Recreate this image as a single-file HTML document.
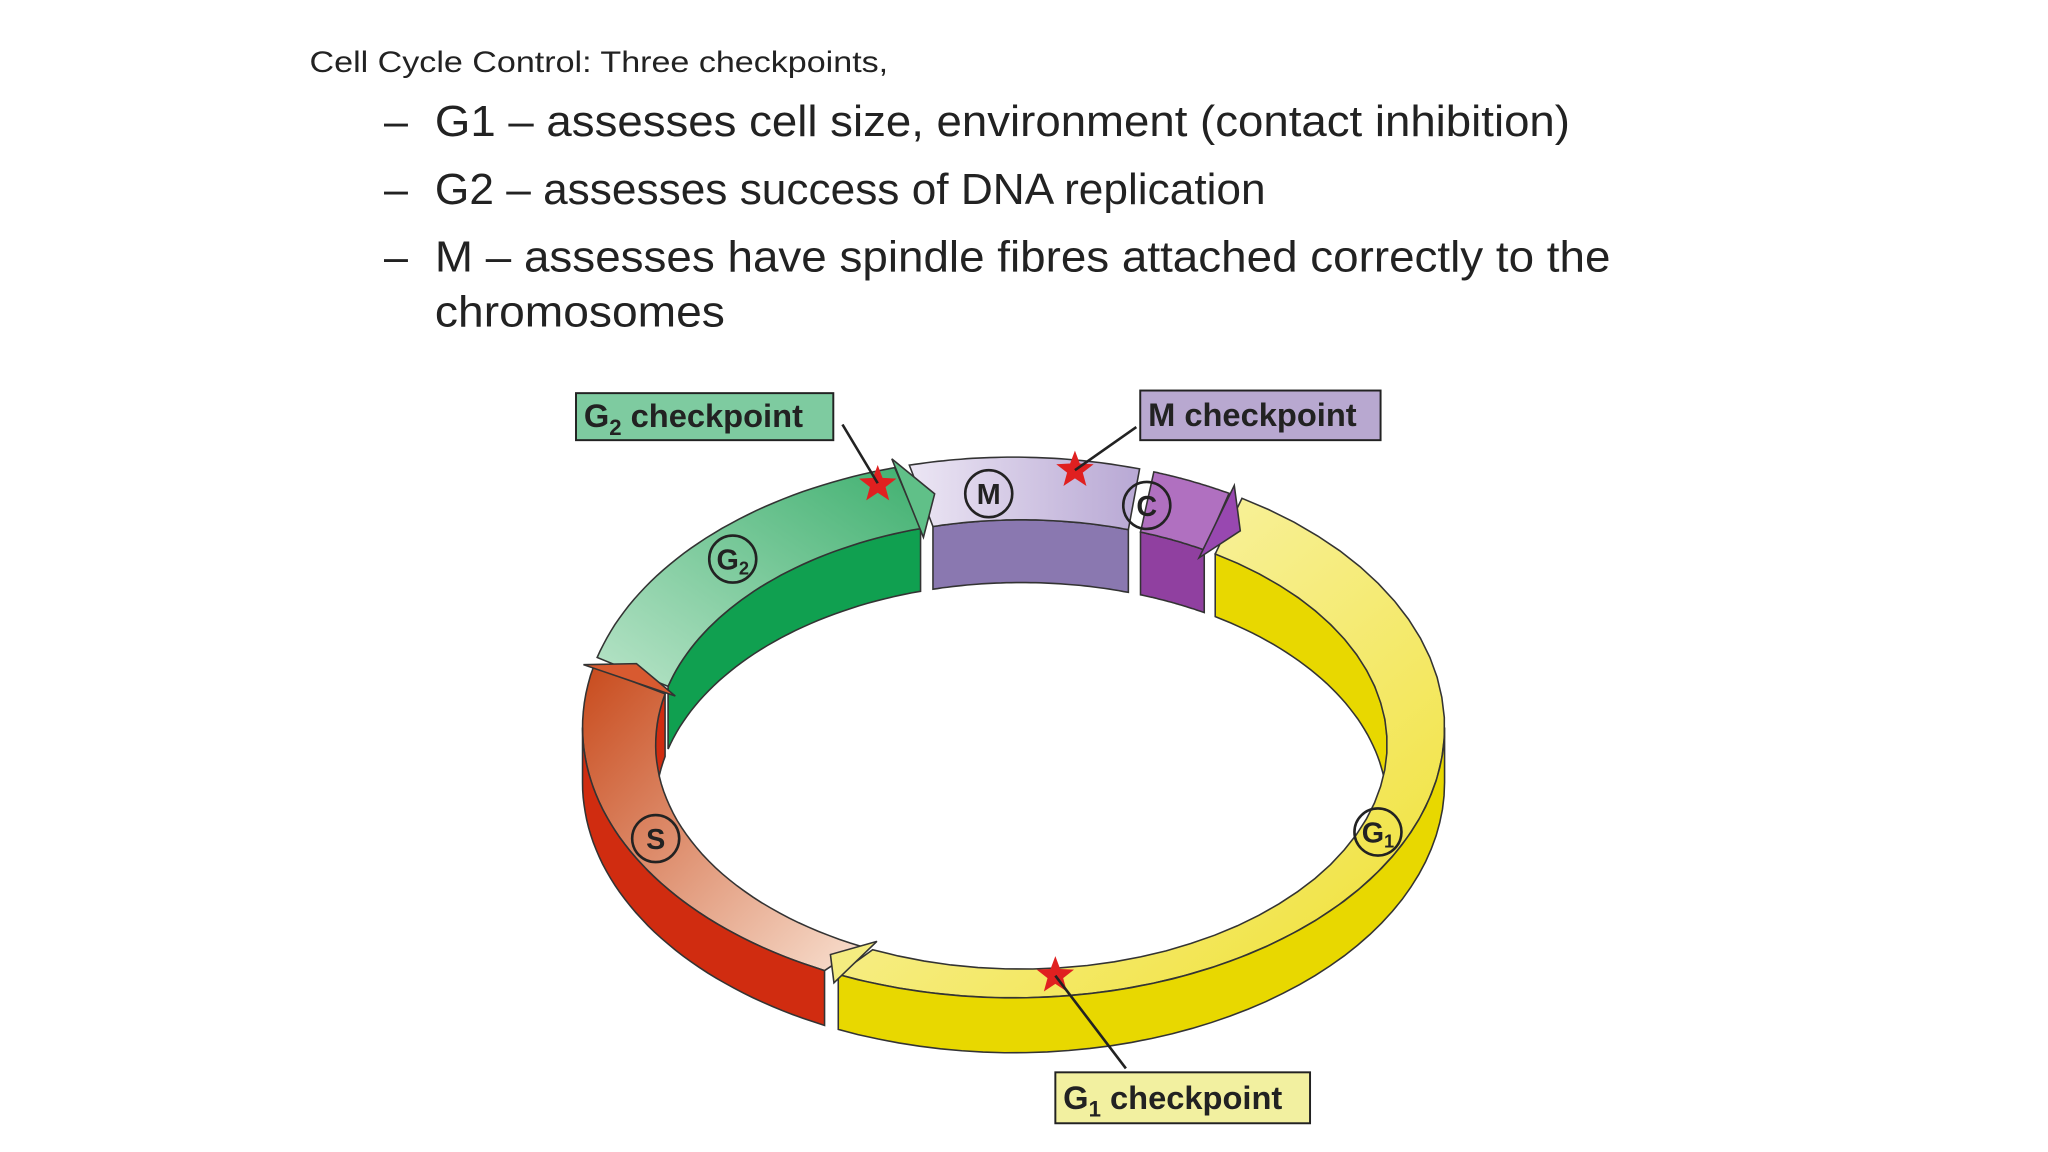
<!DOCTYPE html>
<html><head><meta charset="utf-8"><style>
html,body{margin:0;padding:0;background:#fff;}
body{width:2048px;height:1152px;overflow:hidden;}
svg{display:block}
</style></head><body>
<svg id="s" width="2048" height="1152" viewBox="0 0 1568 882" xmlns="http://www.w3.org/2000/svg">
<defs>
<linearGradient id="gy" x1="0" y1="0" x2="1" y2="1"><stop offset="0" stop-color="#fbf8c8"/><stop offset="1" stop-color="#f0e030"/></linearGradient>
<linearGradient id="gs" x1="0" y1="0" x2="1" y2="1"><stop offset="0" stop-color="#c84a1c"/><stop offset="1" stop-color="#f8e0d0"/></linearGradient>
<linearGradient id="gg" x1="0" y1="1" x2="1" y2="0"><stop offset="0" stop-color="#b8e4c8"/><stop offset="1" stop-color="#40b070"/></linearGradient>
<linearGradient id="gm" x1="0" y1="0" x2="1" y2="0"><stop offset="0" stop-color="#ece6f4"/><stop offset="1" stop-color="#b8a8d4"/></linearGradient>
</defs>
<text x="237" y="55" font-family="Liberation Sans, sans-serif" font-size="23" fill="#222" textLength="443" lengthAdjust="spacingAndGlyphs">Cell Cycle Control: Three checkpoints,</text>
<g font-family="Liberation Sans, sans-serif" font-size="33" fill="#222">
<text x="294" y="104">–</text><text x="333" y="104" textLength="869" lengthAdjust="spacingAndGlyphs">G1 – assesses cell size, environment (contact inhibition)</text>
<text x="294" y="156">–</text><text x="333" y="156" textLength="636" lengthAdjust="spacingAndGlyphs">G2 – assesses success of DNA replication</text>
<text x="294" y="208">–</text><text x="333" y="208" textLength="900" lengthAdjust="spacingAndGlyphs">M – assesses have spindle fibres attached correctly to the</text>
<text x="333" y="250" textLength="222" lengthAdjust="spacingAndGlyphs">chromosomes</text>
</g>
<g id="ring"></g>
<g font-family="Liberation Sans, sans-serif" font-weight="bold" fill="#222" stroke="#222">
<line x1="645" y1="325" x2="672" y2="370" stroke-width="2"/>
<line x1="870" y1="327" x2="823" y2="360" stroke-width="2"/>
<line x1="862" y1="818" x2="808" y2="747" stroke-width="2"/>
<rect x="441" y="301" width="197" height="36" fill="#7ecba0" stroke-width="1.5"/>
<rect x="873" y="299" width="184" height="38" fill="#b8a8d0" stroke-width="1.5"/>
<rect x="808" y="821" width="195" height="39" fill="#f2f0a0" stroke-width="1.5"/>
<text x="447" y="327" font-size="25" stroke="none">G<tspan font-size="17" dy="6">2</tspan><tspan dy="-6"> checkpoint</tspan></text>
<text x="879" y="326" font-size="25" stroke="none">M checkpoint</text>
<text x="814" y="849" font-size="25" stroke="none">G<tspan font-size="17" dy="6">1</tspan><tspan dy="-6"> checkpoint</tspan></text>
</g>
</svg>
<script>
var NS="http://www.w3.org/2000/svg",g=document.getElementById("ring");
var cx=776,cy=557,Rx=330,Ry=207,rx=280,ry=172,ix=782,iy=570,H=42;
function P(a,X,Y,px,py,dy){a=a*Math.PI/180;return [(px+X*Math.cos(a)).toFixed(1),(py+dy+Y*Math.sin(a)).toFixed(1)];}
function band(a1,a2,o1,o2){
 var s="",n=40,i,p;
 for(i=0;i<=n;i++){p=P(a1+(a2-a1)*i/n,o1[0],o1[1],o1[2],o1[3],o1[4]);s+=(i?"L":"M")+p[0]+","+p[1];}
 for(i=n;i>=0;i--){p=P(a1+(a2-a1)*i/n,o2[0],o2[1],o2[2],o2[3],o2[4]);s+="L"+p[0]+","+p[1];}
 return s+"Z";}
function add(d,f){var e=document.createElementNS(NS,"path");e.setAttribute("d",d);e.setAttribute("fill",f);e.setAttribute("stroke","#333");e.setAttribute("stroke-width","1.2");g.appendChild(e);}
var O=[Rx,Ry,cx,cy,0],I=[rx,ry,ix,iy,0],Od=[Rx,Ry,cx,cy,H],Id=[rx,ry,ix,iy,48];
var segs=[[-58,114,"url(#gy)","#e8d800"],[116,193,"url(#gs)","#d02c10"],[195,254,"url(#gg)","#10a050"],[256,287,"url(#gm)","#8a78b0"],[289,300,"#b070c0","#9040a0"]];
function clip(a1,a2,lo,hi){return [Math.max(a1,lo),Math.min(a2,hi)];}
segs.forEach(function(s){[[180,360],[-180,0]].forEach(function(r){var c=clip(s[0],s[1],r[0],r[1]);if(c[0]<c[1])add(band(c[0],c[1],I,Id),s[3]);});});
segs.forEach(function(s){add(band(s[0],s[1],O,I),s[2]);});
segs.forEach(function(s){var c=clip(s[0],s[1],0,180);if(c[0]<c[1])add(band(c[0],c[1],O,Od),s[3]);});
function head(a,dir,f){var p1=P(a,Rx+8,Ry+7,cx,cy,0),p2=P(a,rx-8,ry-7,ix,iy,0),t=P(a+dir*4,(Rx+rx)/2,(Ry+ry)/2,(cx+ix)/2,(cy+iy)/2,0);
 add("M"+p1+"L"+t+"L"+p2+"Z",f);}
head(114,1,"#f4ec80");head(193,1,"#d85a30");head(254,1,"#60c088");head(300,1,"#9848b0");
var L=[["M",757,378],["C",878,387],["G",561,428,"2"],["S",502,642],["G",1055,637,"1"]];
L.forEach(function(l){var c=document.createElementNS(NS,"circle");c.setAttribute("cx",l[1]);c.setAttribute("cy",l[2]);c.setAttribute("r",18);c.setAttribute("fill","none");c.setAttribute("stroke","#222");c.setAttribute("stroke-width","2");g.appendChild(c);
 var t=document.createElementNS(NS,"text");t.setAttribute("x",l[1]);t.setAttribute("text-anchor","middle");t.setAttribute("y",l[2]+8);t.setAttribute("font-family","Liberation Sans, sans-serif");t.setAttribute("font-weight","bold");t.setAttribute("font-size","22");t.setAttribute("fill","#222");t.textContent=l[0];
 if(l[3]){var ts=document.createElementNS(NS,"tspan");ts.setAttribute("font-size","14");ts.setAttribute("dy","4");ts.textContent=l[3];t.appendChild(ts);}g.appendChild(t);});
function star(x,y,r){var s="";for(var i=0;i<10;i++){var a=(i*36-90)*Math.PI/180,rr=i%2?r*0.42:r;s+=(i?"L":"M")+(x+rr*Math.cos(a)).toFixed(1)+","+(y+rr*Math.sin(a)).toFixed(1);}var e=document.createElementNS(NS,"path");e.setAttribute("d",s+"Z");e.setAttribute("fill","#e02020");g.appendChild(e);}
star(672,371,15);star(823,360,15);star(808,747,15);
</script>
</body></html>
